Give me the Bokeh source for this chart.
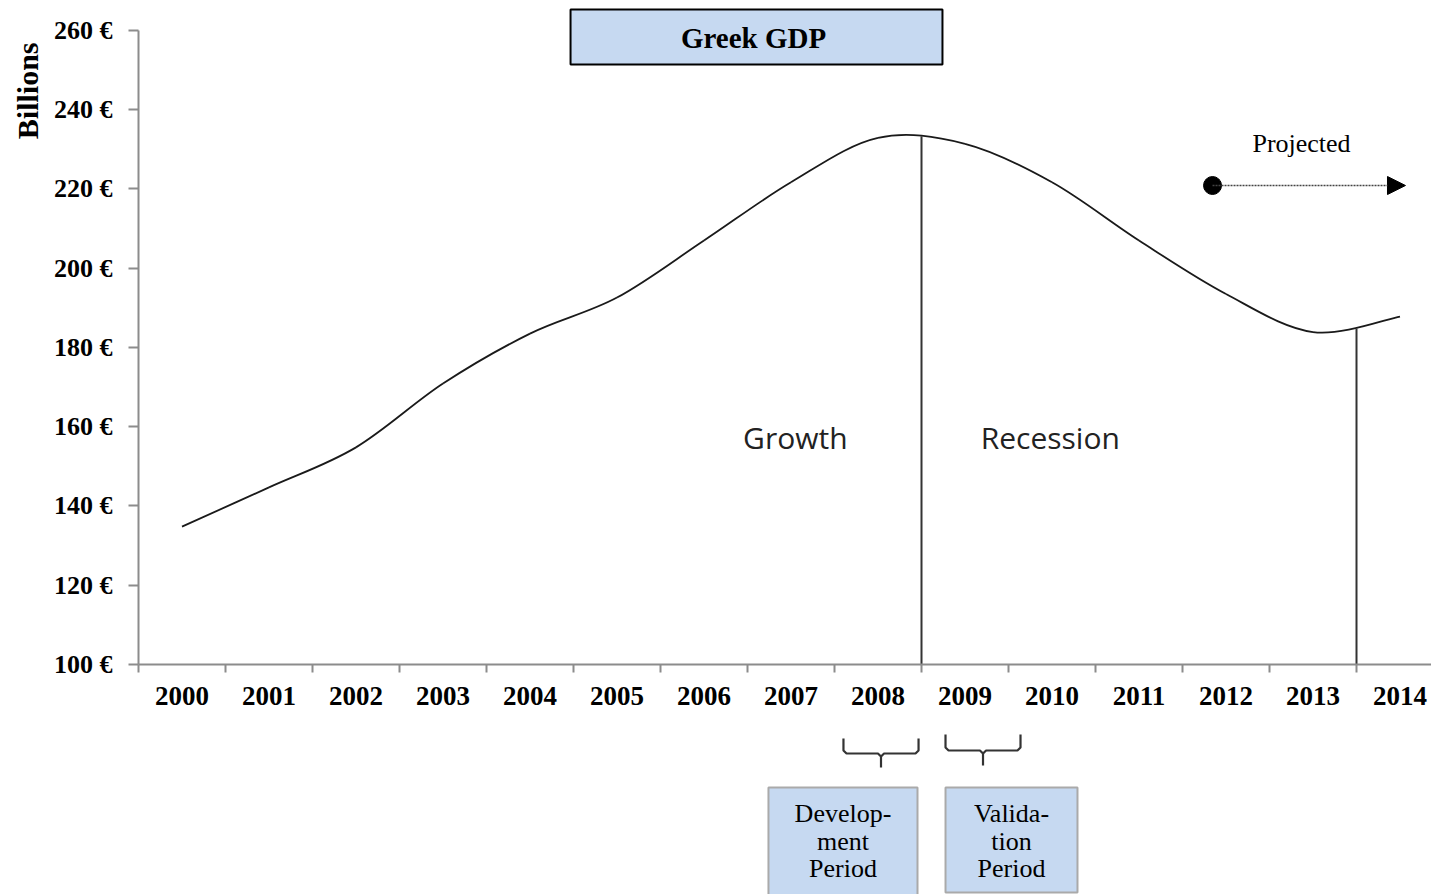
from bokeh.plotting import figure
from bokeh.models import (Range1d, FixedTicker, PrintfTickFormatter, BoxAnnotation,
                          Label, Arrow, NormalHead, Title)
from bokeh.layouts import column
from bokeh.embed import file_html
from bokeh.resources import INLINE
from bokeh.core.properties import value

# ---------------- data ----------------
years = ["2000", "2001", "2002", "2003", "2004", "2005", "2006", "2007",
         "2008", "2009", "2010", "2011", "2012", "2013", "2014"]
gdp = [134.8, 144.7, 154.8, 170.9, 183.5, 192.6, 207.0, 221.7,
       232.9, 231.4, 221.7, 207.0, 193.5, 183.9, 187.8]
y_ticks = [100, 120, 140, 160, 180, 200, 220, 240, 260]
divider_after = ["2008", "2013"]
divider_top = [233.3, 184.8]
phase_labels = ["Growth", "Recession"]
phase_years = ["2007", "2010"]
period_years = ["2008", "2009"]
period_texts = [["Develop-", "ment", "Period"], ["Valida-", "tion", "Period"]]

SERIF = "Liberation Serif"
SANS = "Open Sans"
AXIS_GREY = "#8c8c8c"
BOX_FILL = "#c6d9f1"

n = len(years)
idx = {y: i for i, y in enumerate(years)}
xc = [i + 0.5 for i in range(n)]

# ---------------- main chart ----------------
X_END = 14.862
p = figure(width=1431, height=724, x_range=Range1d(0, X_END), y_range=Range1d(100, 267.57),
           output_backend="svg", toolbar_location=None,
           min_border_left=138, min_border_right=0, min_border_top=0, min_border_bottom=60)
p.outline_line_color = None
p.xgrid.visible = False
p.ygrid.visible = False
p.background_fill_color = "white"

xa = p.xaxis[0]
xa.ticker = FixedTicker(ticks=xc, minor_ticks=list(range(n + 1)))
xa.major_label_overrides = {xc[i]: years[i] for i in range(n)}
xa.major_tick_line_color = None
xa.major_tick_out = 0
xa.major_tick_in = 0
xa.minor_tick_out = 8
xa.minor_tick_in = 0
xa.minor_tick_line_color = AXIS_GREY
xa.minor_tick_line_width = 2
xa.axis_line_color = AXIS_GREY
xa.axis_line_width = 2
xa.major_label_text_font = SERIF
xa.major_label_text_font_size = "27px"
xa.major_label_text_font_style = "bold"
xa.major_label_text_color = "black"
xa.major_label_standoff = 14

ya = p.yaxis[0]
ya.ticker = FixedTicker(ticks=y_ticks, minor_ticks=[])
ya.formatter = PrintfTickFormatter(format="%d €")
ya.bounds = (100, 260)
ya.major_tick_out = 10
ya.major_tick_in = 0
ya.major_tick_line_color = AXIS_GREY
ya.major_tick_line_width = 2
ya.minor_tick_line_color = None
ya.axis_line_color = AXIS_GREY
ya.axis_line_width = 2
ya.major_label_text_font = SERIF
ya.major_label_text_font_size = "26px"
ya.major_label_text_font_style = "bold"
ya.major_label_text_color = "black"
ya.major_label_standoff = 16

p.add_layout(Title(text="Billions", align="right", offset=42, text_font=SERIF,
                   text_font_size="30px", text_font_style="bold", text_color="black",
                   standoff=14), "left")

# smoothed GDP curve (cubic Bezier through the data points)
x0, y0, x1, y1, cx0, cy0, cx1, cy1 = [], [], [], [], [], [], [], []
for i in range(n - 1):
    pxp, pyp = (xc[i - 1], gdp[i - 1]) if i > 0 else (xc[i], gdp[i])
    pxn, pyn = (xc[i + 2], gdp[i + 2]) if i + 2 < n else (xc[i + 1], gdp[i + 1])
    x0.append(xc[i]); y0.append(gdp[i])
    x1.append(xc[i + 1]); y1.append(gdp[i + 1])
    cx0.append(xc[i] + (xc[i + 1] - pxp) / 6); cy0.append(gdp[i] + (gdp[i + 1] - pyp) / 6)
    cx1.append(xc[i + 1] - (pxn - xc[i]) / 6); cy1.append(gdp[i + 1] - (pyn - gdp[i]) / 6)
p.bezier(x0=x0, y0=y0, x1=x1, y1=y1, cx0=cx0, cy0=cy0, cx1=cx1, cy1=cy1,
         line_color="#1a1a1a", line_width=1.8)

# dividers
div_x = [idx[y] + 1 for y in divider_after]
p.segment(x0=div_x, y0=[100] * len(div_x), x1=div_x, y1=divider_top,
          line_color="#333333", line_width=2)

# phase labels
p.text(x=[idx[phase_years[0]] + 0.55, idx[phase_years[1]] + 0.48],
       y=[157.3, 157.3], text=phase_labels,
       text_font=value(SANS), text_font_size="30px", text_color="#222222",
       text_align="center", text_baseline="middle")

# title box
p.add_layout(BoxAnnotation(left=4.966, right=9.241, bottom=251.42, top=265.3,
                           fill_color=BOX_FILL, fill_alpha=1, line_color="black",
                           line_alpha=1, line_width=2, level="overlay"))
p.add_layout(Label(x=7.069, y=258.2, text="Greek GDP", text_font=SERIF,
                   text_font_size="29px", text_font_style="bold", text_color="black",
                   text_align="center", text_baseline="middle", level="overlay"))

# projected marker
p.add_layout(Label(x=13.368, y=231.5, text="Projected", text_font=SERIF,
                   text_font_size="26px", text_color="black",
                   text_align="center", text_baseline="middle"))
p.add_layout(Arrow(end=NormalHead(size=18, fill_color="black", line_color="black"),
                   x_start=12.345, y_start=220.88, x_end=14.563, y_end=220.88,
                   line_color="#444444", line_width=1.5, line_dash="2 1"))
p.scatter(x=[12.345], y=[220.88], size=18, color="black")

# ---------------- bottom annotations ----------------
q = figure(width=1431, height=170, x_range=p.x_range, y_range=Range1d(894, 724),
           output_backend="svg", toolbar_location=None,
           x_axis_location=None, y_axis_location=None,
           min_border_left=138, min_border_right=0, min_border_top=0, min_border_bottom=0)
q.outline_line_color = None
q.xgrid.visible = False
q.ygrid.visible = False

b1 = idx[period_years[0]]
b2 = idx[period_years[1]]
braces = [
    (b1 + 0.103, b1 + 0.966, 738, 753, 767),
    (b2 + 0.276, b2 + 1.138, 734, 750, 765),
]
xs, ys = [], []
for l, r, top, mid, bot in braces:
    c = (l + r) / 2
    d = 0.035
    xs.append([l, l, l + d, c - d, c, c]); ys.append([top, mid - 3, mid, mid, mid + 3, bot])
    xs.append([c, c + d, r - d, r, r]); ys.append([mid + 3, mid, mid, mid - 3, top])
q.multi_line(xs=xs, ys=ys, line_color="#333333", line_width=2.2)

boxes = [(b1 - 0.759, b1 + 0.954, 787, 900), (b2 + 0.276, b2 + 1.793, 787, 892)]
q.quad(left=[b[0] for b in boxes], right=[b[1] for b in boxes],
       top=[b[2] for b in boxes], bottom=[b[3] for b in boxes],
       fill_color=BOX_FILL, line_color="#aaaaaa", line_width=2)

tx, ty, tt = [], [], []
for (l, r, _, _), lines in zip(boxes, period_texts):
    for k, line in enumerate(lines):
        tx.append((l + r) / 2)
        ty.append(813 + 27.5 * k)
        tt.append(line)
q.text(x=tx, y=ty, text=tt, text_font=value(SERIF), text_font_size="26px",
       text_color="black", text_align="center", text_baseline="middle")

layout = column(p, q, spacing=0)
open("out.html", "w").write(file_html(layout, INLINE))
